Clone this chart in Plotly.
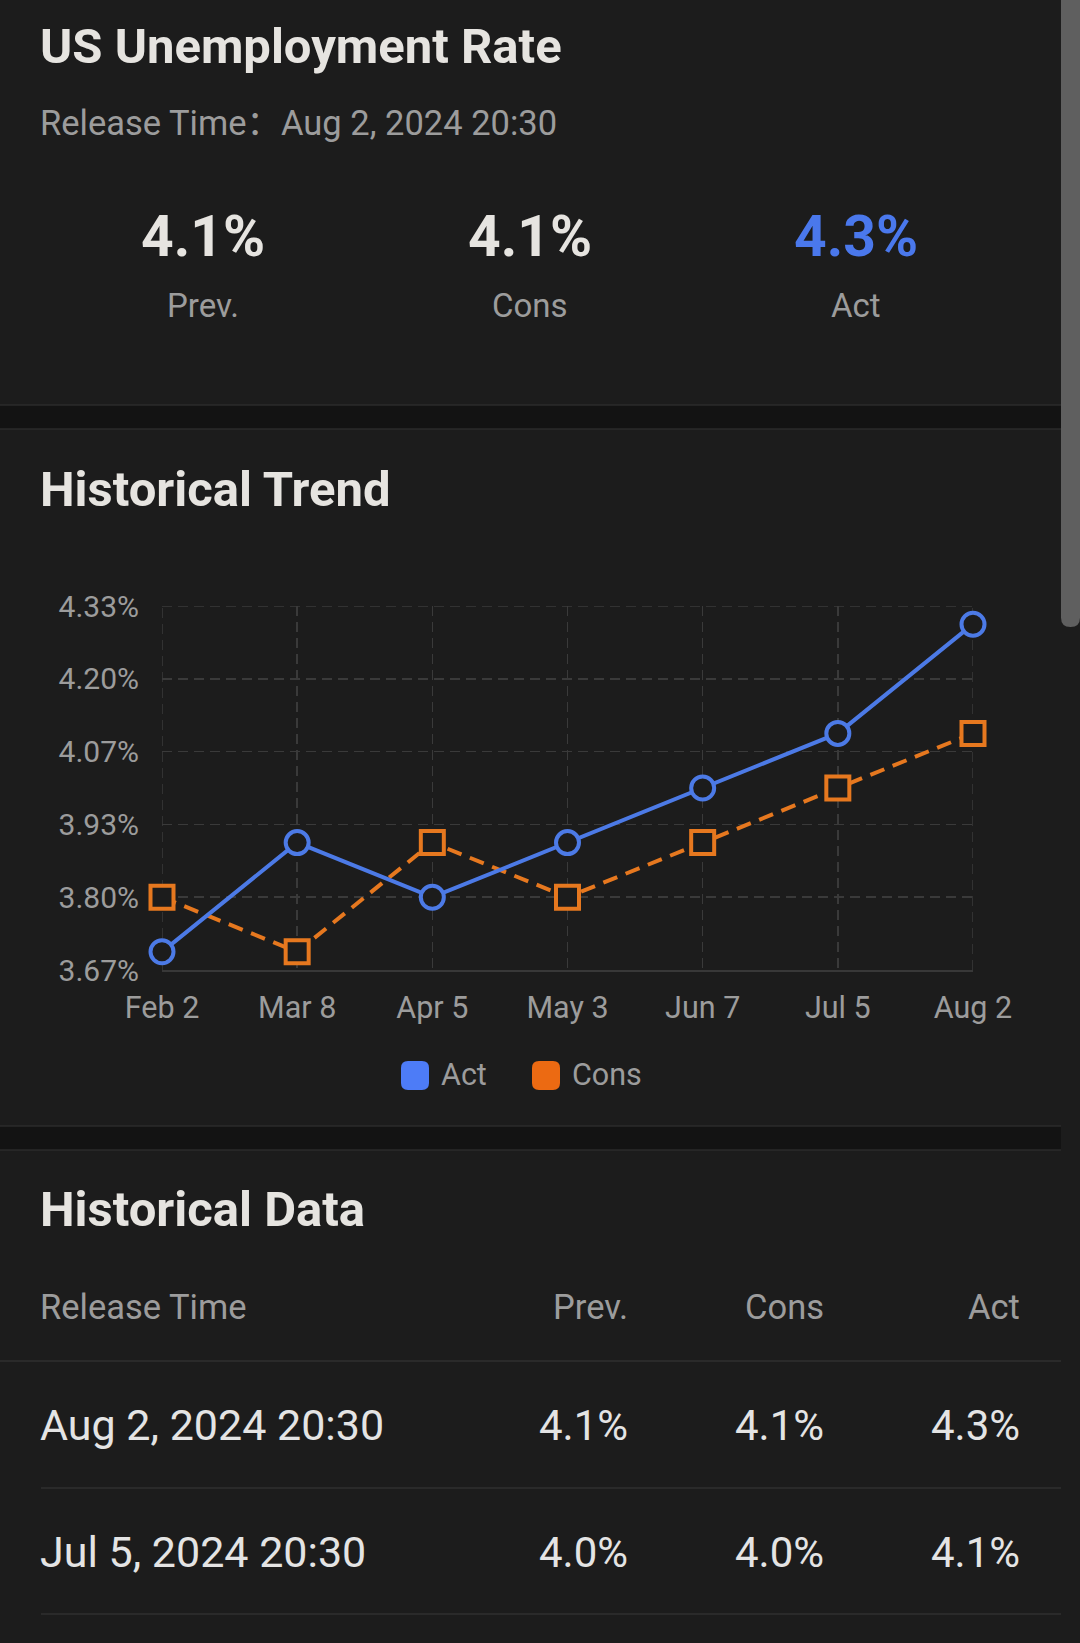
import plotly.graph_objects as go

W, H = 1080, 1643

# ---------------- data ----------------
title = "US Unemployment Rate"
release_time = "Aug 2, 2024 20:30"
summary_labels = ["Prev.", "Cons", "Act"]
summary_values = ["4.1%", "4.1%", "4.3%"]

categories = ["Feb 2", "Mar 8", "Apr 5", "May 3", "Jun 7", "Jul 5", "Aug 2"]
act_values = [3.7, 3.9, 3.8, 3.9, 4.0, 4.1, 4.3]
cons_values = [3.8, 3.7, 3.9, 3.8, 3.9, 4.0, 4.1]
y_tick_values = [3.6667, 3.8, 3.9333, 4.0667, 4.2, 4.3333]
y_tick_labels = ["3.67%", "3.80%", "3.93%", "4.07%", "4.20%", "4.33%"]

table_headers = ["Release Time", "Prev.", "Cons", "Act"]
table_dates = ["Aug 2, 2024 20:30", "Jul 5, 2024 20:30"]
table_prev = ["4.1%", "4.0%"]
table_cons = ["4.1%", "4.0%"]
table_act = ["4.3%", "4.1%"]

# ---------------- styles ----------------
BG = "#1c1c1c"
BAND = "#131313"
BAND_LINE = "#2b2b2b"
TITLE_C = "#e6e4e0"
GRAY = "#9c9c9c"
TEXT_C = "#e4e4e4"
BLUE = "#4c7ae6"
BLUE_BIG = "#4a78ec"
ORANGE = "#e6781f"
LEG_BLUE = "#4d7cf7"
LEG_ORANGE = "#ec6a12"
GRID = "#3a3a3a"
GRID_DASH = "10px,6px"
FONT = "Roboto"


def px(x):
    return x / W


def py(y):
    return 1 - y / H


fig = go.Figure()

# chart domain in pixels
cx0, cx1 = 162, 973
cy_top, cy_bot = 606, 970

fig.add_trace(go.Scatter(
    x=categories, y=cons_values, name="Cons", mode="lines+markers",
    line=dict(color=ORANGE, width=4, dash="15px,9px"),
    marker=dict(symbol="square", size=23, color=BG, line=dict(color=ORANGE, width=4)),
    cliponaxis=False, showlegend=False,
))
fig.add_trace(go.Scatter(
    x=categories, y=act_values, name="Act", mode="lines+markers",
    line=dict(color=BLUE, width=4),
    marker=dict(symbol="circle", size=23, color=BG, line=dict(color=BLUE, width=4)),
    cliponaxis=False, showlegend=False,
))

shapes = []
annotations = []

# frame gridlines at the plot edges (plotly omits gridlines that sit on the edges)
for cat in (categories[0], categories[-1]):
    shapes.append(dict(type="line", xref="x", yref="y domain", x0=cat, x1=cat, y0=0, y1=1,
                       line=dict(color=GRID, width=1.5, dash=GRID_DASH), layer="below"))
shapes.append(dict(type="line", xref="x domain", yref="y", x0=0, x1=1,
                   y0=y_tick_values[-1], y1=y_tick_values[-1],
                   line=dict(color=GRID, width=1.5, dash=GRID_DASH), layer="below"))

LPAD = 3  # annotation internal padding compensation


def text(x, y, s, size, color, anchor="left", bold=False, family=FONT):
    if anchor == "left":
        x -= LPAD
    elif anchor == "right":
        x += LPAD
    annotations.append(dict(
        x=px(x), y=py(y), xref="paper", yref="paper", text=s, showarrow=False,
        xanchor=anchor, yanchor="middle",
        font=dict(family=family, size=size, color=color, weight=700 if bold else 400),
    ))


def hline(x0, x1, y, color, width=1.5):
    shapes.append(dict(type="line", xref="paper", yref="paper",
                       x0=px(x0), x1=px(x1), y0=py(y), y1=py(y),
                       line=dict(color=color, width=width)))


def rrect(x0, y0, x1, y1, r, color):
    path = (f"M {px(x0 + r)},{py(y0)} L {px(x1 - r)},{py(y0)} Q {px(x1)},{py(y0)} {px(x1)},{py(y0 + r)} "
            f"L {px(x1)},{py(y1 - r)} Q {px(x1)},{py(y1)} {px(x1 - r)},{py(y1)} "
            f"L {px(x0 + r)},{py(y1)} Q {px(x0)},{py(y1)} {px(x0)},{py(y1 - r)} "
            f"L {px(x0)},{py(y0 + r)} Q {px(x0)},{py(y0)} {px(x0 + r)},{py(y0)} Z")
    shapes.append(dict(type="path", xref="paper", yref="paper", path=path,
                       fillcolor=color, line=dict(width=0), layer="above"))


# section bands
for (b0, b1) in [(405, 429), (1126, 1150)]:
    shapes.append(dict(type="rect", xref="paper", yref="paper", x0=0, x1=px(1061),
                       y0=py(b1), y1=py(b0), fillcolor=BAND, line=dict(width=0), layer="below"))
    hline(0, 1061, b0, BAND_LINE, 1.5)
    hline(0, 1061, b1, BAND_LINE, 1.5)

# header
text(41, 47, title, 49, TITLE_C, bold=True)
text(41, 123, "Release Time：" + release_time, 34.5, GRAY, family="Roboto, 'Noto Sans CJK SC'")
col_x = [203, 530, 856]
for i, (lab, val) in enumerate(zip(summary_labels, summary_values)):
    text(col_x[i], 237, val, 57, BLUE_BIG if lab == "Act" else TITLE_C, anchor="center", bold=True)
    text(col_x[i], 305, lab, 33, GRAY, anchor="center")

# Historical trend
text(41, 489, "Historical Trend", 49, TITLE_C, bold=True)

# legend (custom)
rrect(401, 1061, 429, 1090, 7, LEG_BLUE)
text(442, 1074, "Act", 30.5, GRAY)
rrect(532, 1061, 560, 1090, 7, LEG_ORANGE)
text(573, 1074, "Cons", 30.5, GRAY)

# Historical data table
text(41, 1209, "Historical Data", 49, TITLE_C, bold=True)
right_cols = [627, 823, 1019]
text(41, 1307, table_headers[0], 34.5, GRAY)
for rx, hdr in zip(right_cols, table_headers[1:]):
    text(rx, 1307, hdr, 34.5, GRAY, anchor="right")
hline(0, 1061, 1361, "#2a2a2a", 2)
row_y = [1425, 1552]
row_line = [1488, 1614]
for i in range(len(table_dates)):
    text(41, row_y[i], table_dates[i], 43, TEXT_C)
    for rx, v in zip(right_cols, [table_prev[i], table_cons[i], table_act[i]]):
        text(rx, row_y[i], v, 42, TEXT_C, anchor="right")
    hline(41, 1061, row_line[i], "#2a2a2a", 2)

# scrollbar thumb
sx0, sx1, sy1, sr = 1061, 1080, 627, 9.5
sb_path = (f"M {px(sx0)},{py(0)} L {px(sx1)},{py(0)} L {px(sx1)},{py(sy1 - sr)} "
           f"Q {px(sx1)},{py(sy1)} {px((sx0 + sx1) / 2)},{py(sy1)} "
           f"Q {px(sx0)},{py(sy1)} {px(sx0)},{py(sy1 - sr)} Z")
shapes.append(dict(type="path", xref="paper", yref="paper", path=sb_path,
                   fillcolor="#5f5f5f", line=dict(width=0), layer="above"))

fig.update_layout(
    width=W, height=H,
    margin=dict(l=0, r=0, t=0, b=0, pad=0, autoexpand=False),
    paper_bgcolor=BG, plot_bgcolor=BG,
    showlegend=False,
    shapes=shapes, annotations=annotations,
    font=dict(family=FONT),
    xaxis=dict(
        domain=[px(cx0), px(cx1)], type="category", range=[0, len(categories) - 1],
        showgrid=True, gridcolor=GRID, gridwidth=1.5, griddash=GRID_DASH,
        showline=True, linecolor="#383838", linewidth=2,
        zeroline=False, ticks="", ticklabelstandoff=9, automargin=False,
        tickfont=dict(family=FONT, size=30.5, color=GRAY), fixedrange=True,
    ),
    yaxis=dict(
        domain=[py(cy_bot), py(cy_top)], range=[y_tick_values[0], y_tick_values[-1]],
        tickvals=y_tick_values, ticktext=y_tick_labels,
        showgrid=True, gridcolor=GRID, gridwidth=1.5, griddash=GRID_DASH,
        showline=False, zeroline=False, ticks="", ticklabelstandoff=22, automargin=False,
        tickfont=dict(family=FONT, size=30, color=GRAY), fixedrange=True,
    ),
)

fig.write_html(
    "out.html",
    config={"displayModeBar": False, "staticPlot": True},
    post_script="document.body.style.margin='0';document.body.style.background='#1c1c1c';document.body.style.overflow='hidden';",
)
